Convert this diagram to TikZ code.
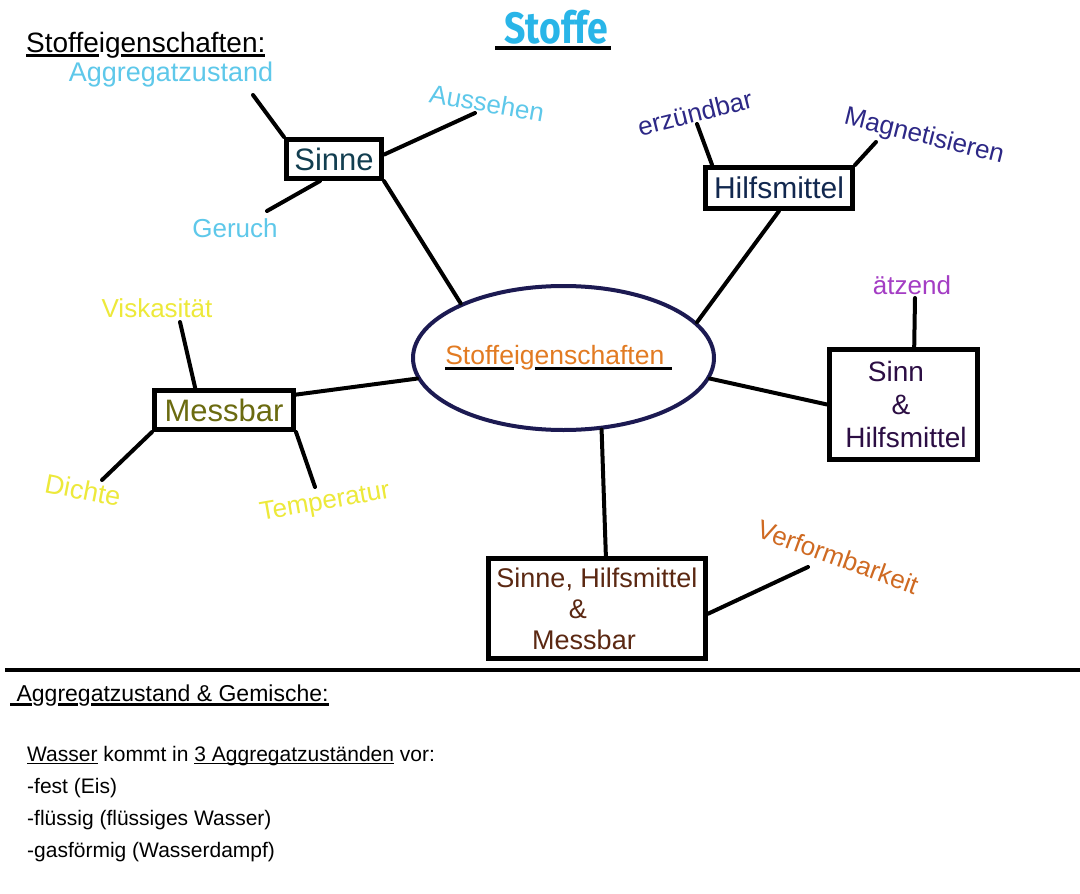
\documentclass[tikz,border=0pt]{standalone}
\usepackage{fontspec}
\usepackage{graphicx}
\setmainfont{Liberation Sans}
\newfontfamily\titlefont{Fira Sans}[FakeStretch=0.85]
\usetikzlibrary{shapes.geometric,calc}
\definecolor{titlec}{HTML}{29B5E8}
\definecolor{lblue}{HTML}{5EC8EA}
\definecolor{sinnec}{HTML}{123E50}
\definecolor{ellc}{HTML}{1C1A52}
\definecolor{orangec}{HTML}{E27B22}
\definecolor{hilfc}{HTML}{12284F}
\definecolor{dblue}{HTML}{2D2886}
\definecolor{aetzc}{HTML}{A43DC4}
\definecolor{snhc}{HTML}{2C0E44}
\definecolor{messc}{HTML}{6B6B10}
\definecolor{yellc}{HTML}{EDE93A}
\definecolor{brownc}{HTML}{5B2812}
\definecolor{verfc}{HTML}{CF6A22}
\newcommand\ulx[1]{\setbox0\hbox{#1}\rlap{\textcolor{black}{\rule[-5pt]{\wd0}{3pt}}}\box0\relax}
\newcommand\ulthin[1]{\setbox0\hbox{#1}\rlap{\rule[-3pt]{\wd0}{1.1pt}}\box0\relax}
\begin{document}
\begin{tikzpicture}[x=1pt,y=-1pt,
  conn/.style={line width=4pt, line cap=round},
  box/.style={draw, line width=5pt, fill=white, inner sep=0pt, align=center},
  lab/.style={inner sep=0pt, font=\fontsize{26}{30}\selectfont},
  txt/.style={inner sep=0pt, anchor=base west}]
\fill[white] (0,0) rectangle (1080,894);
\useasboundingbox (0,0) rectangle (1080,894);

% title and header
\node[inner sep=0pt, anchor=base, text=titlec] (title) at (556,43)
  {\titlefont\bfseries\fontsize{44}{48}\selectfont\rlap{\hspace{-9pt}\textcolor{black}{\rule[-7pt]{116pt}{4pt}}}Stoffe};
\node[txt, font=\fontsize{28}{32}\selectfont] (hdr) at (26,52) {\ulx{Stoffe}ig\ulx{enschaften:}};

% central ellipse
\node[ellipse, draw=ellc, line width=4pt, fill=white, minimum width=301pt, minimum height=144pt, inner sep=0pt,
  text=orangec, font=\fontsize{26.5}{30}\selectfont] (ell) at (563.5,358)
  {\makebox[0pt]{\hspace*{-10pt}\ulx{Stoffe}ig\ulx{enschaften\ }}};

% boxes
\node[box, minimum width=95pt, minimum height=39pt, text=sinnec, font=\fontsize{31}{36}\selectfont] (sinne) at (334,159) {Sinne};
\node[box, minimum width=147pt, minimum height=41pt, text=hilfc, font=\fontsize{30}{35}\selectfont] (hilf) at (779,188) {Hilfsmittel};
\node[box, minimum width=148pt, minimum height=110pt, text=snhc, font=\fontsize{28}{33}\selectfont] (snh) at (903.5,404.5)
  {\hspace*{-15pt}Sinn\\\hspace*{-5pt}\&\\\hspace*{5pt}Hilfsmittel};
\node[box, minimum width=139pt, minimum height=39pt, text=messc, font=\fontsize{31}{36}\selectfont] (mess) at (224,410) {Messbar};
\node[box, minimum width=217pt, minimum height=100pt, text=brownc, font=\fontsize{27}{31}\selectfont] (bot) at (597,608.5)
  {Sinne, Hilfsmittel\\\hspace*{-38pt}\&\\\hspace*{-26pt}Messbar};

% labels
\node[lab, text=lblue, font=\fontsize{27}{30}\selectfont] (aggr) at (171,75) {Aggregatzustand};
\node[lab, text=lblue, rotate=-10] (auss) at (487,103) {Aussehen};
\node[lab, text=lblue] (geruch) at (235,228) {Geruch};
\node[lab, text=dblue, rotate=14] (erz) at (695,113) {erzündbar};
\node[lab, text=dblue, rotate=-14] (magn) at (924,137) {Magnetisieren};
\node[lab, text=aetzc] (aetz) at (912,285) {ätzend};
\node[lab, text=yellc] (visk) at (157,308) {Viskasität};
\node[lab, text=yellc, rotate=-11, font=\fontsize{27}{30}\selectfont] (dichte) at (83,490) {Dichte};
\node[lab, text=yellc, rotate=10] (temp) at (325,503) {Temperatur};
\node[lab, text=verfc, rotate=-20] (verf) at (838,557) {Verformbarkeit};

% free ends of connectors
\coordinate (aggrE) at (253,95);
\coordinate (aussE) at (475,113);
\coordinate (gerE) at (267,211);
\coordinate (erzE) at (697,124);
\coordinate (magE) at (876,142);
\coordinate (aetzE) at (915,298);
\coordinate (viskE) at (180,322);
\coordinate (dichE) at (102,480);
\coordinate (tempE) at (315,487);
\coordinate (verfE) at (808,567);

% connectors
\draw[conn] (aggrE) -- (sinne.north west);
\draw[conn] ($(sinne.north east)!0.4!(sinne.south east)$) -- (aussE);
\draw[conn] (gerE) -- ($(sinne.south west)!0.36!(sinne.south east)$);
\draw[conn] (sinne.south east) -- (ell.152);
\draw[conn] (erzE) -- ($(hilf.north west)!0.06!(hilf.north east)$);
\draw[conn] (magE) -- (hilf.north east);
\draw[conn] (hilf.south) -- (ell.15);
\draw[conn] (aetzE) -- ($(snh.north west)!0.57!(snh.north east)$);
\draw[conn] (ell.-8.6) -- (snh.west);
\draw[conn] (viskE) -- ($(mess.north west)!0.3!(mess.north east)$);
\draw[conn] (dichE) -- (mess.south west);
\draw[conn] (tempE) -- (mess.south east);
\draw[conn] ($(mess.north east)!0.15!(mess.south east)$) -- (ell.188.3);
\draw[conn] (ell.-62.8) -- ($(bot.north west)!0.54!(bot.north east)$);
\draw[conn] ($(bot.north east)!0.55!(bot.south east)$) -- (verfE);

% separator
\coordinate (sepL) at (5,670);
\coordinate (sepR) at (1080,670);
\draw[line width=4pt] (sepL) -- (sepR);

% lower text
\node[txt, font=\fontsize{23}{27}\selectfont] (agh) at (10,701) {\ulx{\ A}gg\ulx{re}g\ulx{atzustand \& Gemische:}};
\node[txt, font=\fontsize{21}{25}\selectfont] (l1) at (27,761) {\ulthin{Wasser} kommt in \ulthin{3 Aggregatzuständen} vor:};
\node[txt, font=\fontsize{21}{25}\selectfont] (l2) at (27,793) {-fest (Eis)};
\node[txt, font=\fontsize{21}{25}\selectfont] (l3) at (27,825) {-flüssig (flüssiges Wasser)};
\node[txt, font=\fontsize{21}{25}\selectfont] (l4) at (27,857) {-gasförmig (Wasserdampf)};
\end{tikzpicture}
\end{document}
